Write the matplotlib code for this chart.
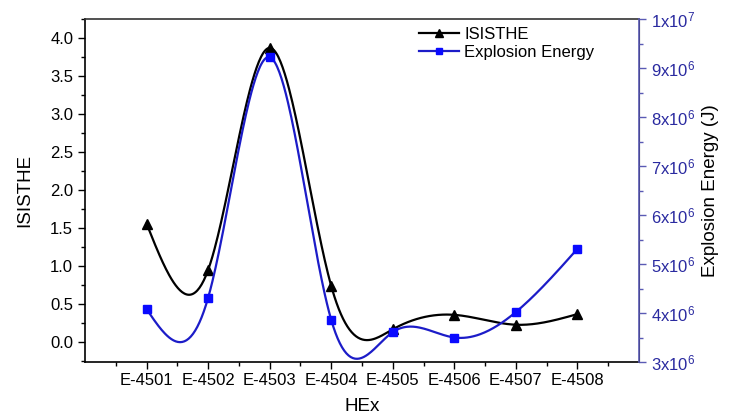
import numpy as np
import matplotlib
matplotlib.use("Agg")
import matplotlib.pyplot as plt
from matplotlib.ticker import MultipleLocator, FixedLocator, FormatStrFormatter

plt.rcParams['font.family'] = ['Liberation Sans', 'DejaVu Sans']
plt.rcParams['mathtext.default'] = 'regular'

# data
hex_names = ['E-4501', 'E-4502', 'E-4503', 'E-4504', 'E-4505', 'E-4506', 'E-4507', 'E-4508']
isisthe = [1.56, 0.95, 3.87, 0.74, 0.17, 0.36, 0.23, 0.37]
energy = [4.08e6, 4.31e6, 9.22e6, 3.86e6, 3.61e6, 3.50e6, 4.02e6, 5.31e6]

energy_ticks = [3e6, 4e6, 5e6, 6e6, 7e6, 8e6, 9e6, 1e7]
energy_labels = ['3x10$^6$', '4x10$^6$', '5x10$^6$', '6x10$^6$',
                 '7x10$^6$', '8x10$^6$', '9x10$^6$', '1x10$^7$']

black = '#000000'
blue_line = '#1c1cc8'
blue_mark = '#0a0aff'
blue_axis = '#5a5ab4'
blue_text = '#2a2aa0'


def natural_spline(x, y, n=400):
    # natural cubic spline through the points, used for the smooth connecting line
    x = np.asarray(x, float)
    y = np.asarray(y, float)
    k = len(x)
    h = np.diff(x)
    A = np.zeros((k, k))
    b = np.zeros(k)
    A[0, 0] = 1
    A[-1, -1] = 1
    for i in range(1, k - 1):
        A[i, i - 1] = h[i - 1]
        A[i, i] = 2 * (h[i - 1] + h[i])
        A[i, i + 1] = h[i]
        b[i] = 6 * ((y[i + 1] - y[i]) / h[i] - (y[i] - y[i - 1]) / h[i - 1])
    m = np.linalg.solve(A, b)
    xs = np.linspace(x[0], x[-1], n)
    idx = np.clip(np.searchsorted(x, xs) - 1, 0, k - 2)
    x0, x1 = x[idx], x[idx + 1]
    hh = x1 - x0
    t0 = x1 - xs
    t1 = xs - x0
    ys = (m[idx] * t0 ** 3 / (6 * hh) + m[idx + 1] * t1 ** 3 / (6 * hh)
          + (y[idx] / hh - m[idx] * hh / 6) * t0
          + (y[idx + 1] / hh - m[idx + 1] * hh / 6) * t1)
    return xs, ys


pos = np.arange(1, len(hex_names) + 1)

fig = plt.figure(figsize=(7.3, 4.15), dpi=100)
ax = fig.add_axes([85 / 730, 1 - 362 / 415, (639 - 85) / 730, (362 - 19) / 415])
ax2 = ax.twinx()

xs, ys = natural_spline(pos, isisthe)
ax.plot(xs, ys, color=black, lw=1.6, zorder=3)
ax.plot(pos, isisthe, ls='none', marker='^', ms=7, color=black, zorder=4)

xs2, ys2 = natural_spline(pos, energy)
ax2.plot(xs2, ys2, color=blue_line, lw=1.6, zorder=3)
ax2.plot(pos, energy, ls='none', marker='s', ms=6, color=blue_mark, zorder=4)

ax.set_xlim(0, 9)
ax.set_ylim(-0.26, 4.25)
ax2.set_ylim(3e6, 1e7)

ax.set_xticks(pos)
ax.set_xticklabels(hex_names)
ax.xaxis.set_minor_locator(FixedLocator(np.arange(0.5, 9, 1.0)))
ax.yaxis.set_major_locator(MultipleLocator(0.5))
ax.yaxis.set_minor_locator(MultipleLocator(0.25))
ax.yaxis.set_major_formatter(FormatStrFormatter('%.1f'))

ax2.set_yticks(energy_ticks)
ax2.set_yticklabels(energy_labels)
ax2.yaxis.set_minor_locator(MultipleLocator(5e5))

ax.tick_params(axis='both', which='major', direction='out', length=5, width=1, labelsize=12)
ax.tick_params(axis='both', which='minor', direction='out', length=3, width=1)
ax.tick_params(axis='x', pad=3)
ax2.tick_params(axis='y', which='major', direction='out', length=5, width=1,
                colors=blue_axis, labelcolor=blue_text, labelsize=12)
ax2.tick_params(axis='y', which='minor', direction='out', length=3, width=1, colors=blue_axis)

for s in ['left', 'bottom', 'top']:
    ax.spines[s].set_linewidth(1.2)
ax.spines['top'].set_color('#333333')
ax2.spines['right'].set_color(blue_axis)
ax2.spines['right'].set_linewidth(1.2)
ax2.spines['left'].set_visible(False)
ax2.spines['top'].set_visible(False)
ax2.spines['bottom'].set_visible(False)

ax.set_xlabel('HEx', fontsize=13.5, labelpad=7)
ax.set_ylabel('ISISTHE', fontsize=13.5, labelpad=12)
ax2.set_ylabel('Explosion Energy (J)', fontsize=13.5, labelpad=5)

h1, = ax.plot([], [], color=black, lw=1.6, marker='^', ms=6, label='ISISTHE')
h2, = ax.plot([], [], color=blue_line, lw=1.6, marker='s', ms=5, markerfacecolor=blue_mark,
              markeredgecolor=blue_mark, label='Explosion Energy')
ax2.legend(handles=[h1, h2], loc='upper left', bbox_to_anchor=(0.585, 1.005), frameon=False,
           fontsize=12, handlelength=2.4, handletextpad=0.3, labelspacing=0.15,
           borderaxespad=0.2)

fig.savefig('out.png', dpi=100)
